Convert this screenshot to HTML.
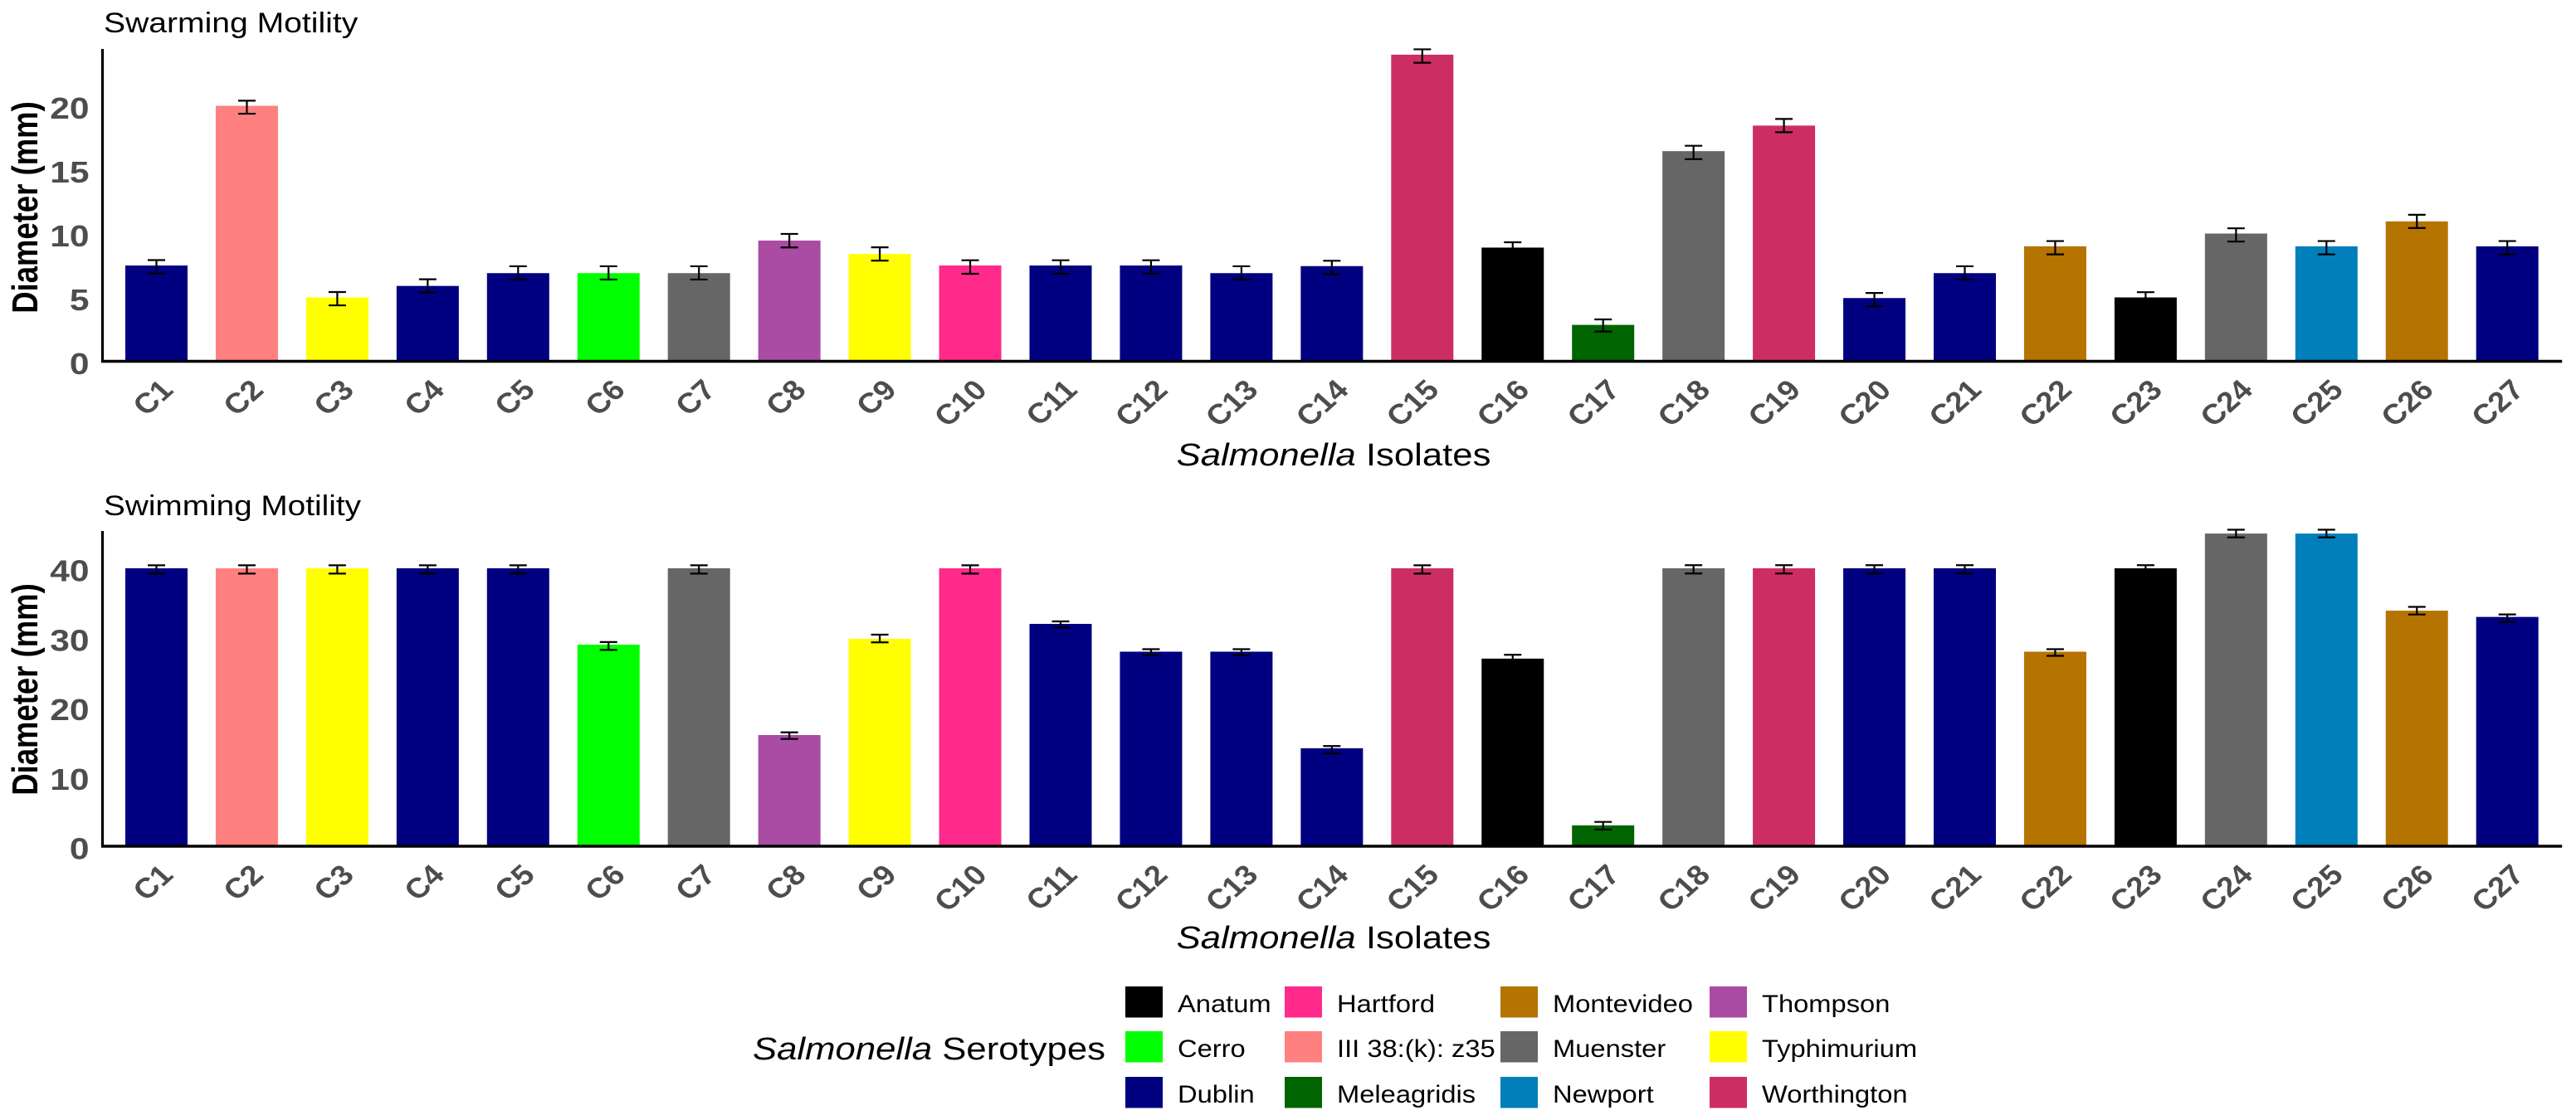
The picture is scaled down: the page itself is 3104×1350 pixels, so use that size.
<!DOCTYPE html>
<html lang="en">
<head>
<meta charset="utf-8">
<title>Salmonella motility</title>
<style>
html,body{margin:0;padding:0;background:#fff;width:3104px;height:1350px;overflow:hidden}
svg{display:block;font-family:"Liberation Sans",Arial,sans-serif}
</style>
</head>
<body>
<svg id="chart" xmlns="http://www.w3.org/2000/svg" width="3104" height="1350" viewBox="0 0 3104 1350">
  <rect width="3104" height="1350" fill="#fff"/>
  <text transform="translate(125,39) scale(1.15,1)" font-size="34" fill="#000">Swarming Motility</text>
  <text transform="translate(125,621) scale(1.14,1)" font-size="34" fill="#000">Swimming Motility</text>
  <text transform="translate(45,250) scale(1.2,1) rotate(-90)" font-size="36.5" font-weight="700" text-anchor="middle" fill="#000">Diameter (mm)</text>
  <text transform="translate(45,831) scale(1.2,1) rotate(-90)" font-size="36.5" font-weight="700" text-anchor="middle" fill="#000">Diameter (mm)</text>
  <text transform="translate(1607,561) scale(1.15,1)" font-size="38" text-anchor="middle" fill="#000"><tspan font-style="italic">Salmonella</tspan> Isolates</text>
  <text transform="translate(1607,1143) scale(1.15,1)" font-size="38" text-anchor="middle" fill="#000"><tspan font-style="italic">Salmonella</tspan> Isolates</text>
  <g id="panels"></g>
  <g>
    <text transform="translate(907,1277) scale(1.15,1)" font-size="38" fill="#000"><tspan font-style="italic">Salmonella</tspan> Serotypes</text>
    <g id="legend-entries"></g>
  </g>
</svg>
<script>
const isolates = ["C1","C2","C3","C4","C5","C6","C7","C8","C9","C10","C11","C12","C13","C14","C15","C16","C17","C18","C19","C20","C21","C22","C23","C24","C25","C26","C27"];
const serotypeOfIsolate = ["Dublin","III 38:(k): z35","Typhimurium","Dublin","Dublin","Cerro","Muenster","Thompson","Typhimurium","Hartford","Dublin","Dublin","Dublin","Dublin","Worthington","Anatum","Meleagridis","Muenster","Worthington","Dublin","Dublin","Montevideo","Anatum","Muenster","Newport","Montevideo","Dublin"];
const swarmingValues = [7.5,20,5,5.9,6.9,6.9,6.9,9.45,8.4,7.5,7.5,7.5,6.9,7.45,24,8.9,2.85,16.45,18.45,4.95,6.9,9,5,10,9,10.95,9];
const swimmingValues = [40,40,40,40,40,29,40,16,29.85,40,32,28,28,14.1,40,27,3,40,40,40,40,28,40,45,45,33.9,33];
const swarmingErrUp = [0.42,0.4,0.42,0.52,0.54,0.54,0.54,0.52,0.52,0.41,0.41,0.41,0.54,0.42,0.42,0.42,0.43,0.42,0.52,0.4,0.54,0.41,0.41,0.41,0.41,0.52,0.41];
const swarmingErrDown = [0.62,0.62,0.62,0.52,0.5,0.5,0.5,0.54,0.52,0.65,0.65,0.65,0.51,0.64,0.63,0.63,0.52,0.63,0.52,0.65,0.5,0.63,0.63,0.63,0.63,0.52,0.63];
const swimmingErrUp = [0.43,0.43,0.43,0.43,0.43,0.39,0.43,0.39,0.6,0.43,0.36,0.36,0.36,0.32,0.43,0.55,0.5,0.45,0.45,0.45,0.45,0.36,0.45,0.55,0.55,0.55,0.36];
const swimmingErrDown = [0.76,0.76,0.76,0.76,0.76,0.75,0.76,0.56,0.51,0.76,0.51,0.51,0.51,0.75,0.76,0.5,0.6,0.75,0.75,0.75,0.75,0.6,0.75,0.55,0.55,0.55,0.72];
const swarmingTicks = [0,5,10,15,20];
const swimmingTicks = [0,10,20,30,40];
const legendSerotypes = ["Anatum","Cerro","Dublin","Hartford","III 38:(k): z35","Meleagridis","Montevideo","Muenster","Newport","Thompson","Typhimurium","Worthington"];
const legendColors = ["#000000","#00FF00","#000080","#FF2A8A","#FF8080","#006400","#B57300","#666666","#007FBB","#AA4BA4","#FFFF00","#CC2E63"];

const NS = "http://www.w3.org/2000/svg";
function make(parent, tag, attrs, text){
  const el = document.createElementNS(NS, tag);
  for (const k in attrs) el.setAttribute(k, attrs[k]);
  if (text !== undefined) el.textContent = text;
  parent.appendChild(el);
  return el;
}
function colorOf(serotype){ return legendColors[legendSerotypes.indexOf(serotype)]; }
function xCenter(i){ return 188.5 + i * 108.95; }

function drawPanel(key, values, errUp, errDown, ticks, baseY, topY, pxPerUnit){
  const yOf = v => baseY - v * pxPerUnit;
  const root = document.getElementById('panels');
  const g = make(root, 'g', {});
  
  

  values.forEach((v, i) => {
    const bar = make(g, 'rect', {x: xCenter(i) - 37.5, y: yOf(v), width: 75, height: baseY - yOf(v), fill: colorOf(serotypeOfIsolate[i])});
    
    
  });
  values.forEach((v, i) => {
    const cx = xCenter(i), hi = yOf(v + errUp[i]), lo = yOf(v - errDown[i]);
    const eb = make(g, 'path', {d: 'M' + (cx - 10.5) + ' ' + hi + 'H' + (cx + 10.5) + 'M' + cx + ' ' + hi + 'V' + lo + 'M' + (cx - 10.5) + ' ' + lo + 'H' + (cx + 10.5), fill: 'none', stroke: '#000', 'stroke-width': 2.2});
    
    
  });

  const xAxis = make(g, 'line', {x1: 122, x2: xCenter(26) + 66, y1: baseY, y2: baseY, stroke: '#000', 'stroke-width': 3.4});
  
  
  const yAxis = make(g, 'line', {x1: 123.5, x2: 123.5, y1: topY, y2: baseY + 1.5, stroke: '#000', 'stroke-width': 3.2});
  
  

  ticks.forEach(t => {
    const label = make(g, 'text', {transform: 'translate(107.5,' + (yOf(t) + 15.5) + ') scale(1.18,1)', 'font-size': 36, 'font-weight': 700, 'text-anchor': 'end', fill: '#4D4D4D'}, String(t));
    
    
  });
  isolates.forEach((name, i) => {
    const label = make(g, 'text', {transform: 'translate(' + (xCenter(i) + 22) + ',' + (baseY + 36.5) + ') scale(1.12,1) rotate(-45)', 'font-size': 34, 'font-weight': 700, 'text-anchor': 'end', fill: '#4D4D4D'}, name);
    
    
  });
}

drawPanel('swarming', swarmingValues, swarmingErrUp, swarmingErrDown, swarmingTicks, 435.5, 59, 15.4);
drawPanel('swimming', swimmingValues, swimmingErrUp, swimmingErrDown, swimmingTicks, 1020, 640, 8.375);

const legendColumnX = [1356, 1548, 1808, 2060];
const legendRowY = [1189, 1243, 1298];
const legendRoot = document.getElementById('legend-entries');
legendSerotypes.forEach((name, i) => {
  const col = Math.floor(i / 3), row = i % 3;
  const x = legendColumnX[col], y = legendRowY[row];
  const slug = name.toLowerCase().replace(/[^a-z0-9]+/g, '-');
  const entry = make(legendRoot, 'g', {});
  
  
  const swatch = make(entry, 'rect', {x: x, y: y, width: 45, height: 37.5, fill: legendColors[i]});
  
  
  const label = make(entry, 'text', {transform: 'translate(' + (x + 63) + ',' + (y + 31) + ') scale(1.09,1)', 'font-size': 30, fill: '#000'}, name);
  
  
});
</script>
</body>
</html>
